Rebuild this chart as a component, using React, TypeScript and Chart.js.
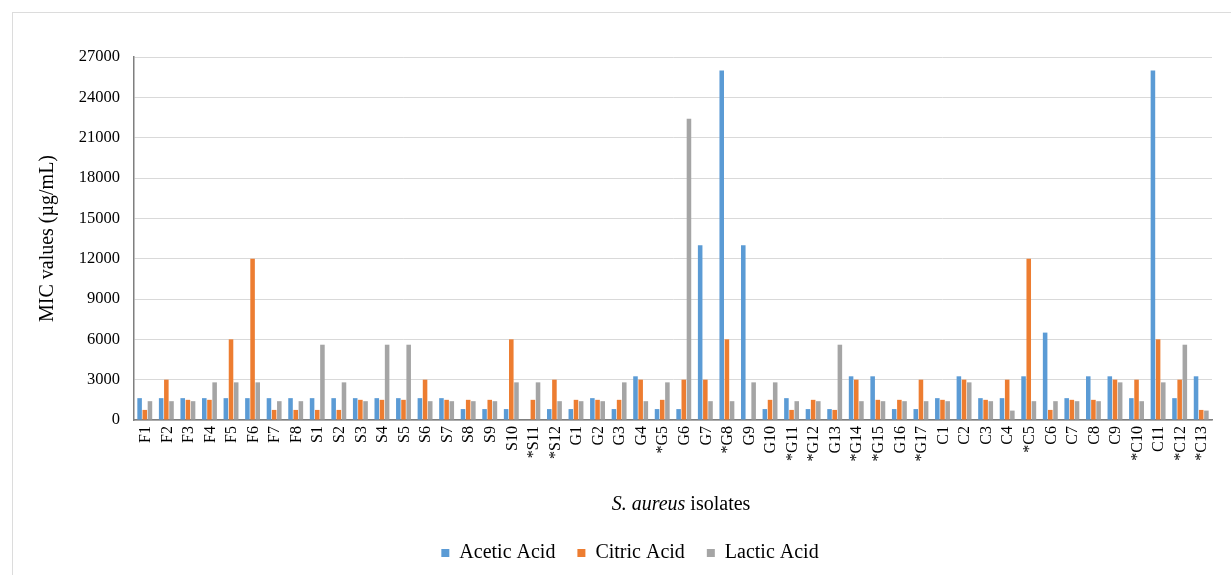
import React, { useEffect, useRef } from "react";
import { Chart, registerables } from "chart.js";

Chart.register(...registerables);

const categories = [
  "F1", "F2", "F3", "F4", "F5", "F6", "F7", "F8",
  "S1", "S2", "S3", "S4", "S5", "S6", "S7", "S8", "S9", "S10", "*S11", "*S12",
  "G1", "G2", "G3", "G4", "*G5", "G6", "G7", "*G8", "G9", "G10", "*G11", "*G12", "G13", "*G14", "*G15", "G16", "*G17",
  "C1", "C2", "C3", "C4", "*C5", "C6", "C7", "C8", "C9", "*C10", "C11", "*C12", "*C13",
];

const aceticAcid = [
  1625, 1625, 1625, 1625, 1625, 1625, 1625, 1625,
  1625, 1625, 1625, 1625, 1625, 1625, 1625, 812.5, 812.5, 812.5, 0, 812.5,
  812.5, 1625, 812.5, 3250, 812.5, 812.5, 13000, 26000, 13000, 812.5, 1625, 812.5, 812.5, 3250, 3250, 812.5, 812.5,
  1625, 3250, 1625, 1625, 3250, 6500, 1625, 3250, 3250, 1625, 26000, 1625, 3250,
];

const citricAcid = [
  750, 3000, 1500, 1500, 6000, 12000, 750, 750,
  750, 750, 1500, 1500, 1500, 3000, 1500, 1500, 1500, 6000, 1500, 3000,
  1500, 1500, 1500, 3000, 1500, 3000, 3000, 6000, 0, 1500, 750, 1500, 750, 3000, 1500, 1500, 3000,
  1500, 3000, 1500, 3000, 12000, 750, 1500, 1500, 3000, 3000, 6000, 3000, 750,
];

const lacticAcid = [
  1400, 1400, 1400, 2800, 2800, 2800, 1400, 1400,
  5600, 2800, 1400, 5600, 5600, 1400, 1400, 1400, 1400, 2800, 2800, 1400,
  1400, 1400, 2800, 1400, 2800, 22400, 1400, 1400, 2800, 2800, 1400, 1400, 5600, 1400, 1400, 1400, 1400,
  1400, 2800, 1400, 700, 1400, 1400, 1400, 1400, 2800, 1400, 2800, 5600, 700,
];

const seriesNames = ["Acetic Acid", "Citric Acid", "Lactic Acid"];
const seriesColors = ["#5B9BD5", "#ED7D31", "#A5A5A5"];
const yTicksMax = 27000;
const yTicksStep = 3000;
const yTitle = "MIC values (µg/mL)";
const xTitleItalic = "S. aureus";
const xTitleRest = " isolates";

const FONT = "'Liberation Serif', 'Times New Roman', serif";

const legendShiftPlugin = {
  id: "legendShift",
  afterLayout(chart: any) {
    const lg = chart.legend;
    if (lg) {
      lg.left += 24;
      lg.right += 24;
    }
  },
};

const xLabelsPlugin = {
  id: "rotatedXLabels",
  afterDraw(chart: any) {
    const ctx = chart.ctx;
    const xs = chart.scales.x;
    const area = chart.chartArea;
    ctx.save();
    ctx.fillStyle = "#000000";
    ctx.font = `16px ${FONT}`;
    ctx.textAlign = "right";
    ctx.textBaseline = "middle";
    categories.forEach((lab, i) => {
      const x = xs.getPixelForValue(i) + 1;
      ctx.save();
      ctx.translate(x, area.bottom + 6);
      ctx.rotate(-Math.PI / 2);
      ctx.fillText(lab, 0, 0);
      ctx.restore();
    });
    // x axis title with mixed styles
    const cx = (area.left + area.right) / 2 + 8;
    const ty = 505;
    ctx.textBaseline = "middle";
    ctx.textAlign = "left";
    ctx.font = `italic 20px ${FONT}`;
    const w1 = ctx.measureText(xTitleItalic).width;
    ctx.font = `20px ${FONT}`;
    const w2 = ctx.measureText(xTitleRest).width;
    const start = cx - (w1 + w2) / 2;
    ctx.font = `italic 20px ${FONT}`;
    ctx.fillText(xTitleItalic, start, ty);
    ctx.font = `20px ${FONT}`;
    ctx.fillText(xTitleRest, start + w1, ty);
    ctx.restore();
  },
};

export default function App() {
  const ref = useRef<HTMLCanvasElement>(null);
  useEffect(() => {
    if (!ref.current) return;
    const datasets = [aceticAcid, citricAcid, lacticAcid].map((d, i) => ({
      label: seriesNames[i],
      data: d,
      backgroundColor: seriesColors[i],
      borderWidth: 0,
      categoryPercentage: 0.72,
      barPercentage: 0.88,
    }));
    const chart = new Chart(ref.current, {
      type: "bar",
      data: { labels: categories, datasets },
      plugins: [xLabelsPlugin, legendShiftPlugin],
      options: {
        responsive: false,
        maintainAspectRatio: false,
        animation: false,
        font: { family: FONT },
        layout: { padding: { top: 57, right: 19, left: 0, bottom: 2 } },
        plugins: {
          tooltip: { enabled: false },
          title: { display: false },
          legend: {
            display: true,
            position: "bottom",
            labels: {
              boxWidth: 8,
              boxHeight: 8,
              padding: 22,
              color: "#000000",
              font: { family: FONT, size: 20, style: "normal", weight: "normal" },
            },
          },
        },
        scales: {
          x: {
            grid: { display: false, drawTicks: false },
            border: { display: true, color: "#7f7f7f", width: 1.5 },
            ticks: { display: false },
            afterFit(scale: any) {
              scale.height = 101;
            },
          },
          y: {
            min: 0,
            max: yTicksMax,
            grid: { color: "#d9d9d9", drawTicks: false, lineWidth: 1 },
            border: { display: true, color: "#7f7f7f", width: 1.5 },
            ticks: {
              stepSize: yTicksStep,
              padding: 14,
              color: "#000000",
              font: { family: FONT, size: 16.5 },
              callback: (v: any) => String(v),
            },
            title: {
              display: true,
              text: yTitle,
              color: "#000000",
              font: { family: FONT, size: 20 },
              padding: 36,
            },
            afterFit(scale: any) {
              scale.width = 134;
            },
          },
        },
      },
    } as any);
    return () => chart.destroy();
  }, []);
  return (
    <div style={{ position: "fixed", left: 0, top: 0, width: 1231, height: 575, background: "#fff" }}>
      <div
        style={{
          position: "absolute",
          left: 12,
          top: 12,
          width: 1219,
          height: 563,
          borderTop: "1px solid #dcdcdc",
          borderLeft: "1px solid #dcdcdc",
          boxSizing: "border-box",
        }}
      />
      <canvas ref={ref} width={1231} height={575} style={{ position: "absolute", left: 0, top: 0 }} />
    </div>
  );
}
